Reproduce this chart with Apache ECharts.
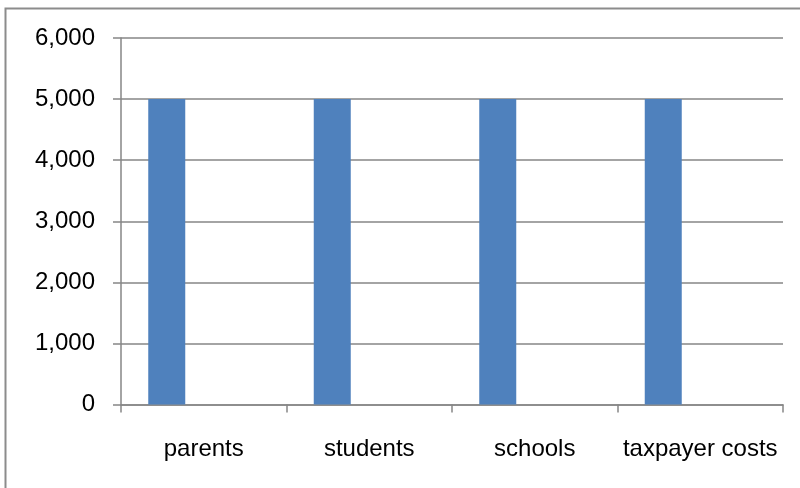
<!DOCTYPE html>
<html><head><meta charset="utf-8">
<script src="https://cdn.jsdelivr.net/npm/echarts@6/dist/echarts.min.js"></script>
<style>html,body{margin:0;padding:0;background:#fff}#c{width:800px;height:488px}</style>
</head><body><div id="c"></div>
<script>
const categories = ['parents', 'students', 'schools', 'taxpayer costs'];
const series1 = [5000, 5000, 5000, 5000];
const series2 = [null, null, null, null];
const series3 = [null, null, null, null];
const yTicks = [0, 1000, 2000, 3000, 4000, 5000, 6000];

const chart = echarts.init(document.getElementById('c'));
const font = 'Liberation Sans';
chart.setOption({
  animation: false,
  backgroundColor: '#fff',
  graphic: [{
    type: 'rect', shape: { x: 5.5, y: 8.5, width: 820, height: 520 },
    style: { fill: 'none', stroke: '#8c8c8c', lineWidth: 2 }, silent: true, z: -1
  }],
  grid: { left: 121, right: 17, top: 38, bottom: 83.5 },
  xAxis: {
    type: 'category', data: categories,
    axisLine: { lineStyle: { color: '#868686', width: 1.5 } },
    axisTick: { show: true, interval: 0, length: 8, lineStyle: { color: '#868686', width: 1.5 } },
    axisLabel: { interval: 0, color: '#000', fontFamily: font, fontSize: 24, margin: 33 }
  },
  yAxis: {
    type: 'value', min: yTicks[0], max: yTicks[yTicks.length - 1], interval: 1000,
    axisLine: { show: true, lineStyle: { color: '#868686', width: 1.5 } },
    axisTick: { show: true, length: 8, lineStyle: { color: '#868686', width: 1.5 } },
    splitLine: { lineStyle: { color: '#868686', width: 1.5 } },
    axisLabel: {
      color: '#000', fontFamily: font, fontSize: 24, margin: 26,
      formatter: v => v.toLocaleString('en-US')
    }
  },
  series: [
    { type: 'bar', data: series1, barWidth: 37, barGap: '0%', itemStyle: { color: '#4f81bd' } },
    { type: 'bar', data: series2, barWidth: 37, barGap: '0%', itemStyle: { color: '#c0504d' } },
    { type: 'bar', data: series3, barWidth: 37, barGap: '0%', itemStyle: { color: '#9bbb59' } }
  ]
});
</script></body></html>
